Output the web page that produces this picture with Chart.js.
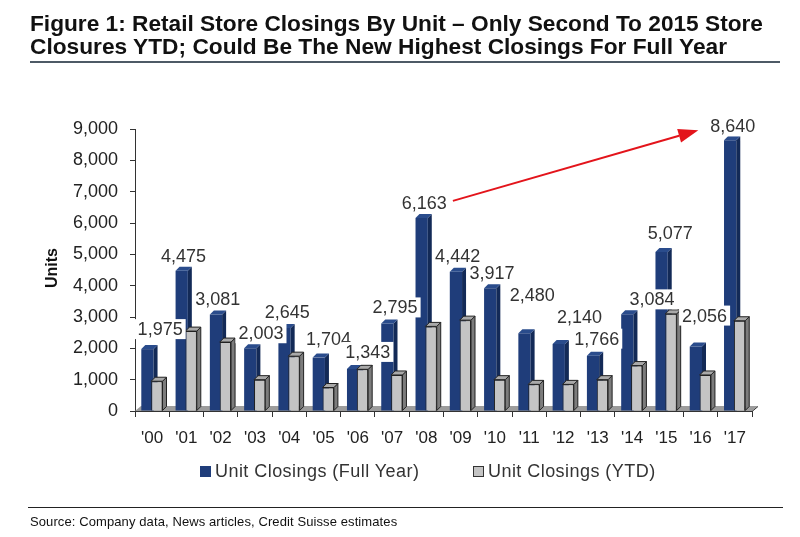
<!DOCTYPE html>
<html>
<head>
<meta charset="utf-8">
<script src="https://cdn.jsdelivr.net/npm/chart.js@4"></script>
<style>
  body { margin: 0; background: #fff; font-family: "Liberation Sans", Arial, sans-serif; }
  #wrap { position: relative; width: 800px; height: 537px; overflow: hidden; }
  #title { position: absolute; left: 30px; top: 12px; font-weight: bold; font-size: 22px; line-height: 23px; color: #111; white-space: nowrap; }
  #title span { display: block; transform-origin: 0 0; }
  #rule1 { position: absolute; left: 30px; top: 61px; width: 750px; height: 2px; background: #4d5a66; }
  #units { position: absolute; left: 52px; top: 268px; transform: translate(-50%, -50%) rotate(-90deg); font-weight: bold; font-size: 16px; color: #111; }
  #legend { position: absolute; top: 461px; left: 0; width: 800px; font-size: 18px; letter-spacing: 0.45px; color: #333; }
  .item { position: absolute; top: 0; white-space: nowrap; }
  .sw { display: inline-block; width: 11px; height: 11px; margin-right: 4px; vertical-align: 0; }
  #rule2 { position: absolute; left: 28px; top: 507px; width: 755px; height: 1px; background: #222; }
  #source { position: absolute; left: 30px; top: 514px; font-size: 13px; letter-spacing: 0.1px; color: #111; }
</style>
</head>
<body>
<div id="wrap">
  <canvas id="chart" width="800" height="537"></canvas>
  <div id="title"><span>Figure 1: Retail Store Closings By Unit – Only Second To 2015 Store</span><span>Closures YTD; Could Be The New Highest Closings For Full Year</span></div>
  <div id="rule1"></div>
  <div id="units">Units</div>
  <div id="legend">
    <div class="item" style="left:200px"><span class="sw" style="background:#1f3d7a"></span>Unit Closings (Full Year)</div>
    <div class="item" style="left:473px"><span class="sw" style="background:#c4c4c4;border:1px solid #333;width:9px;height:9px"></span>Unit Closings (YTD)</div>
  </div>
  <div id="rule2"></div>
  <div id="source">Source: Company data, News articles, Credit Suisse estimates</div>
</div>
<script>
// --- données ---
const years = ["'00", "'01", "'02", "'03", "'04", "'05", "'06", "'07", "'08",
               "'09", "'10", "'11", "'12", "'13", "'14", "'15", "'16", "'17"];
const fullYear = [1975, 4475, 3081, 2003, 2645, 1704, 1343, 2795, 6163,
                  4442, 3917, 2480, 2140, 1766, 3084, 5077, 2056, 8640];
const ytd = [950, 2550, 2200, 1000, 1750, 750, 1330, 1150, 2700,
             2900, 1000, 850, 850, 1000, 1450, 3100, 1150, 2880];
const yMax = 9000;
const yStep = 1000;

// décalage des étiquettes (px) par rapport au centre de la catégorie
const labelShift = [[8, -4], [-3, 1], [-3, 1], [6, 1], [-2, 0], [5, -3], [10, -1], [3, 0], [-2, 1],
                    [-3, 0], [-3, 1], [3, -22], [16, -11], [-1, -1], [20, 1], [4, -3], [4, -15], [-2, 2]];

// largeur du titre comme l'original
document.querySelectorAll('#title span').forEach((s, i) => {
  const target = i === 0 ? 733 : 697;
  s.style.display = 'inline-block';
  const w = s.getBoundingClientRect().width;
  s.style.transform = 'scaleX(' + (target / w) + ')';
  s.style.display = 'block';
});

const fmt = v => v.toLocaleString('en-US');
const DEPTH = 4;
const FONT = '"Liberation Sans", Arial, sans-serif';

function poly(ctx, pts, fill, stroke) {
  ctx.beginPath();
  ctx.moveTo(pts[0][0], pts[0][1]);
  for (let i = 1; i < pts.length; i++) ctx.lineTo(pts[i][0], pts[i][1]);
  ctx.closePath();
  ctx.fillStyle = fill;
  ctx.fill();
  if (stroke) { ctx.strokeStyle = stroke; ctx.lineWidth = 1; ctx.stroke(); }
}

function faces(ctx, bar, side, top, stroke) {
  const { x, y, base, width } = bar.getProps(['x', 'y', 'base', 'width'], true);
  const l = x - width / 2, r = x + width / 2, d = DEPTH;
  poly(ctx, [[r, y], [r + d, y - d], [r + d, base - d], [r, base]], side, stroke);
  poly(ctx, [[l, y], [l + d, y - d], [r + d, y - d], [r, y]], top, stroke);
}

// sol 3D + faces des barres + étiquettes + flèche
const pseudo3d = {
  id: 'pseudo3d',
  beforeDatasetsDraw(chart) {
    const { ctx, chartArea: a } = chart;
    ctx.save();
    poly(ctx, [[a.left, a.bottom], [a.left + 6, a.bottom - 5], [a.right + 6, a.bottom - 5], [a.right, a.bottom]], '#9c9c9c');
    ctx.strokeStyle = '#333';
    ctx.beginPath();
    ctx.moveTo(a.left, a.bottom + 0.5);
    ctx.lineTo(a.right, a.bottom + 0.5);
    ctx.moveTo(a.right, a.bottom + 0.5);
    ctx.lineTo(a.right + 6, a.bottom - 4.5);
    ctx.stroke();
    ctx.restore();
  },
  afterDatasetsDraw(chart) {
    const ctx = chart.ctx;
    const blue = chart.getDatasetMeta(0).data;
    const gray = chart.getDatasetMeta(1).data;
    ctx.save();
    blue.forEach(b => faces(ctx, b, '#132a57', '#2a4c8c'));
    gray.forEach(b => b.draw(ctx));
    gray.forEach(b => faces(ctx, b, '#7c7c7c', '#a9a9a9', '#222'));

    // étiquettes avec fond blanc
    ctx.font = '18px ' + FONT;
    ctx.textAlign = 'center';
    ctx.textBaseline = 'middle';
    const xs = chart.scales.x;
    const boxes = [];
    blue.forEach((b, i) => {
      const txt = fmt(fullYear[i]);
      const cx = xs.getPixelForValue(i) + labelShift[i][0];
      const cy = b.y - 16 + labelShift[i][1];
      const w = ctx.measureText(txt).width;
      ctx.fillStyle = '#fff';
      ctx.fillRect(cx - w / 2 - 3, cy - 10, w + 6, 20);
      ctx.fillStyle = '#333';
      ctx.fillText(txt, cx, cy + 1);
      boxes.push({ left: cx - w / 2, right: cx + w / 2, cy });
    });

    // flèche rouge 2008 -> 2017
    const s = boxes[8], e = boxes[17];
    const x1 = s.right + 6, y1 = s.cy - 2;
    const x2 = e.left - 12, y2 = e.cy + 4;
    const ang = Math.atan2(y2 - y1, x2 - x1);
    const hl = 20, hw = 7;
    const bx = x2 - hl * Math.cos(ang), by = y2 - hl * Math.sin(ang);
    ctx.strokeStyle = '#e3141b';
    ctx.lineWidth = 2;
    ctx.beginPath();
    ctx.moveTo(x1, y1);
    ctx.lineTo(bx, by);
    ctx.stroke();
    poly(ctx, [[x2, y2],
               [bx + hw * Math.sin(ang), by - hw * Math.cos(ang)],
               [bx - hw * Math.sin(ang), by + hw * Math.cos(ang)]], '#e3141b');
    ctx.restore();
  }
};

new Chart(document.getElementById('chart'), {
  type: 'bar',
  data: {
    labels: years,
    datasets: [
      {
        label: 'Unit Closings (Full Year)',
        data: fullYear,
        backgroundColor: '#1f3d7a',
        borderWidth: 0,
        categoryPercentage: 0.55,
        barPercentage: 1.3
      },
      {
        label: 'Unit Closings (YTD)',
        data: ytd,
        backgroundColor: '#c4c4c4',
        borderColor: '#222',
        borderWidth: 1,
        categoryPercentage: 0.55,
        barPercentage: 1.2
      }
    ]
  },
  options: {
    responsive: false,
    animation: false,
    devicePixelRatio: 1,
    layout: { padding: { top: 129, right: 48, left: 0, bottom: 0 } },
    plugins: {
      legend: { display: false },
      tooltip: { enabled: false }
    },
    scales: {
      x: {
        afterFit: s => { s.height = 126; },
        grid: { display: true, drawOnChartArea: false, tickLength: 6, color: '#333', offset: true },
        border: { display: false },
        ticks: { color: '#222', padding: 11, font: { size: 17, family: FONT }, maxRotation: 0, autoSkip: false }
      },
      y: {
        min: 0,
        max: yMax,
        afterFit: s => { s.width = 135; },
        grid: { display: true, drawOnChartArea: false, tickLength: 5, color: '#333' },
        border: { display: true, color: '#333', width: 1 },
        ticks: {
          stepSize: yStep,
          color: '#222',
          padding: 12,
          font: { size: 18, family: FONT },
          callback: v => fmt(v)
        }
      }
    }
  },
  plugins: [pseudo3d]
});
</script>
</body>
</html>
